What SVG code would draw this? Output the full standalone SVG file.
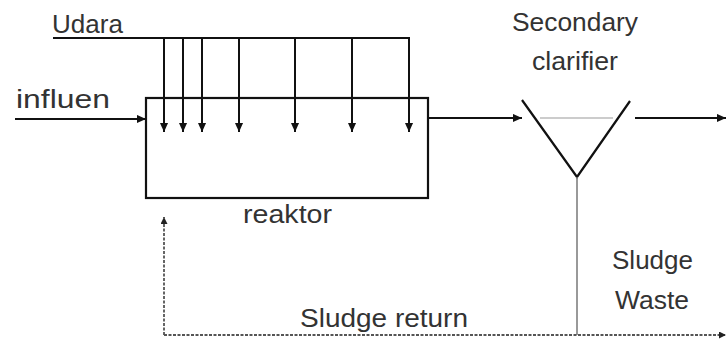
<svg xmlns="http://www.w3.org/2000/svg" width="727" height="344" viewBox="0 0 727 344">
  <defs>
    <marker id="ah" viewBox="0 0 10 10" refX="10" refY="5" markerWidth="9" markerHeight="9" markerUnits="userSpaceOnUse" orient="auto">
      <path d="M0,0.5 L10,5 L0,9.5 Z" fill="#111"/>
    </marker>
    <marker id="ahs" viewBox="0 0 10 10" refX="10" refY="5" markerWidth="7" markerHeight="7" markerUnits="userSpaceOnUse" orient="auto">
      <path d="M0,0 L10,5 L0,10 Z" fill="#222"/>
    </marker>
  </defs>
  <style>
    .lbl { font-family: "Liberation Sans", Arial, sans-serif; font-size: 26px; fill: #333; }
    .ln { stroke: #111; stroke-width: 2.2; fill: none; }
    .flow { stroke: #111; stroke-width: 2; fill: none; marker-end: url(#ah); }
    .dash { stroke: #555; stroke-width: 1.8; fill: none; stroke-dasharray: 3 1.5; marker-end: url(#ahs); }
    .thin { stroke: #777; stroke-width: 1.5; fill: none; }
  </style>
  <rect width="727" height="344" fill="#fff"/>

  <g id="reaktor">
    <rect x="146" y="98" width="282" height="100" class="ln" stroke-width="2.5"/>
    <text class="lbl" x="243" y="223" textLength="89" lengthAdjust="spacingAndGlyphs">reaktor</text>
  </g>

  <g id="clarifier">
    <polyline points="522,100 577,177 630,101" class="ln" stroke-width="2.6"/>
    <line x1="540" y1="118" x2="613" y2="118" stroke="#999" stroke-width="1"/>
    <text class="lbl" x="575" y="31" text-anchor="middle" textLength="126" lengthAdjust="spacingAndGlyphs">Secondary</text>
    <text class="lbl" x="575" y="70" text-anchor="middle" textLength="86" lengthAdjust="spacingAndGlyphs">clarifier</text>
  </g>

  <g id="udara">
    <text class="lbl" x="52" y="33" textLength="71" lengthAdjust="spacingAndGlyphs">Udara</text>
  </g>

  <g id="labels">
    <text class="lbl" x="16" y="108" textLength="94" lengthAdjust="spacingAndGlyphs">influen</text>
    <text class="lbl" x="300" y="327" textLength="168" lengthAdjust="spacingAndGlyphs">Sludge return</text>
    <text class="lbl" x="612" y="269" textLength="81" lengthAdjust="spacingAndGlyphs">Sludge</text>
    <text class="lbl" x="615" y="309" textLength="74" lengthAdjust="spacingAndGlyphs">Waste</text>
  </g>

  <g id="connectors">
    <!-- air header and diffuser drops -->
    <line x1="53" y1="38" x2="409" y2="38" class="ln"/>
    <line x1="164" y1="38" x2="164" y2="132" class="flow"/>
    <line x1="183" y1="38" x2="183" y2="132" class="flow"/>
    <line x1="202" y1="38" x2="202" y2="132" class="flow"/>
    <line x1="239" y1="38" x2="239" y2="132" class="flow"/>
    <line x1="295" y1="38" x2="295" y2="132" class="flow"/>
    <line x1="352" y1="38" x2="352" y2="132" class="flow"/>
    <line x1="409" y1="37" x2="409" y2="132" class="flow"/>
    <!-- main flow -->
    <line x1="15" y1="119" x2="146" y2="119" class="flow"/>
    <line x1="429" y1="118" x2="522" y2="118" class="flow"/>
    <line x1="635" y1="118" x2="726" y2="118" class="flow"/>
    <!-- sludge line from clarifier -->
    <line x1="577" y1="177" x2="577" y2="335" class="thin"/>
    <!-- waste and return -->
    <line x1="164" y1="335" x2="726" y2="335" class="dash"/>
    <line x1="164" y1="335" x2="164" y2="217" class="dash"/>
  </g>
</svg>
